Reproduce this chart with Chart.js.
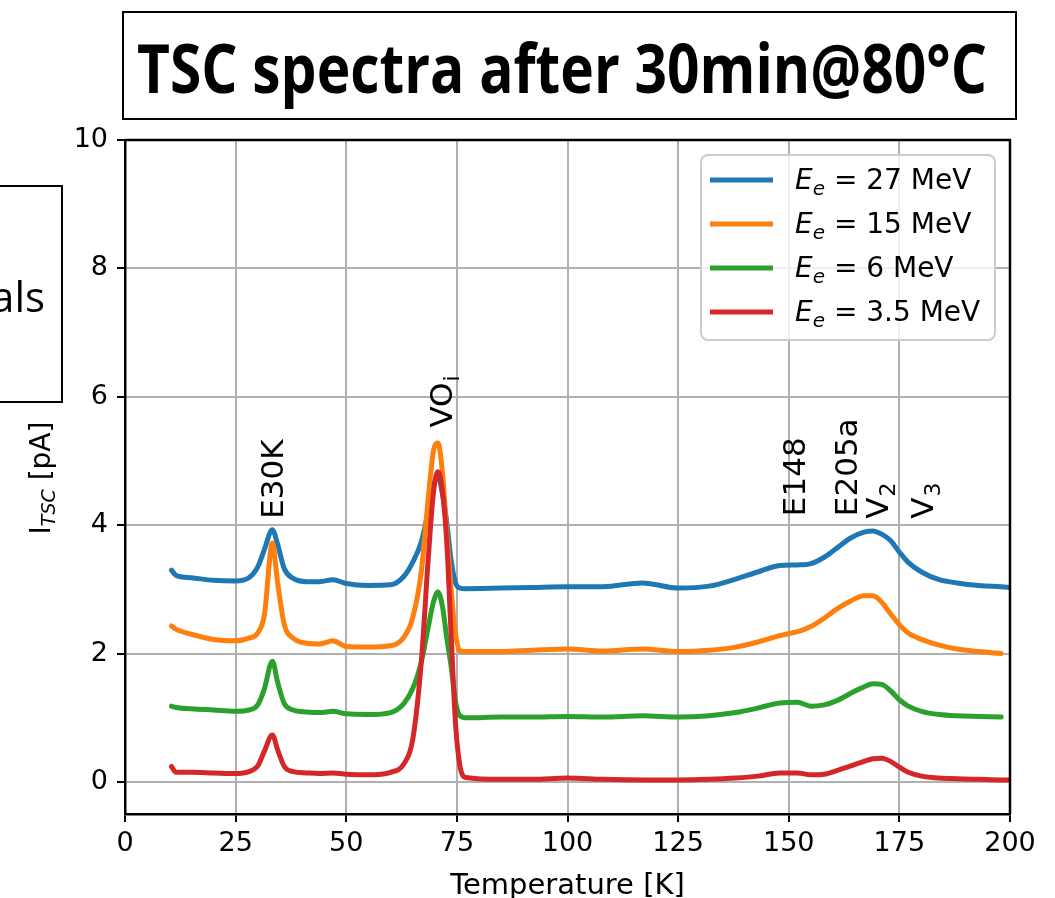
<!DOCTYPE html>
<html>
<head>
<meta charset="utf-8">
<script src="https://cdn.jsdelivr.net/npm/chart.js@4.4.0/dist/chart.umd.min.js"></script>
<style>
  html, body { margin: 0; padding: 0; background: #fff; }
  #wrap { width: 1055px; height: 898px; position: relative; }
</style>
</head>
<body>
<div id="wrap"><canvas id="c" width="1055" height="898"></canvas></div>
<script>
// ---------- data ----------
const temps = [10.5, 11.5, 15, 20, 25, 28, 30, 31.5, 33.3, 34.5, 36, 38, 41, 44, 47, 50, 55, 60, 63, 65, 67, 68.5, 69.7, 70.7, 71.7, 72.7, 73.7, 74.7, 75.7, 77, 85, 92, 100, 108, 117, 125, 132, 138, 143, 148, 152, 155, 158, 161, 164, 167, 169, 171, 173, 175, 177, 180, 184, 188, 193, 198, 200];
const blue27 = [3.30,3.22,3.18,3.14,3.13,3.18,3.35,3.62,3.93,3.70, 3.32,3.17,3.12,3.12,3.15,3.09,3.06,3.07,3.20,3.42, 3.75,4.20,4.60,4.78,4.50,4.05,3.45,3.10,3.02,3.01, 3.02,3.03,3.04,3.04,3.10,3.02,3.05,3.16,3.27,3.37, 3.38,3.40,3.50,3.65,3.80,3.89,3.91,3.86,3.76,3.58, 3.42,3.27,3.15,3.10,3.06,3.04,3.03];
const orange15 = [2.43,2.38,2.30,2.22,2.20,2.24,2.32,2.60,3.72,3.10, 2.45,2.24,2.16,2.15,2.20,2.11,2.10,2.12,2.25,2.55, 3.30,4.40,5.15,5.28,4.85,3.90,3.00,2.30,2.04,2.03, 2.03,2.05,2.07,2.04,2.07,2.03,2.05,2.10,2.18,2.28, 2.34,2.42,2.55,2.70,2.82,2.90,2.90,2.80,2.62,2.45, 2.32,2.22,2.13,2.07,2.03,2.00,null];
const green6 = [1.18,1.16,1.14,1.12,1.10,1.12,1.20,1.45,1.88,1.55, 1.22,1.12,1.09,1.08,1.10,1.06,1.05,1.08,1.22,1.45, 1.88,2.40,2.80,2.96,2.75,2.25,1.80,1.25,1.03,1.00, 1.01,1.01,1.02,1.01,1.03,1.01,1.03,1.08,1.15,1.23, 1.24,1.18,1.20,1.27,1.38,1.48,1.53,1.52,1.42,1.28, 1.18,1.10,1.05,1.03,1.02,1.01,null];
const red35 = [0.24,0.15,0.15,0.14,0.13,0.16,0.25,0.48,0.73,0.50, 0.24,0.16,0.14,0.13,0.14,0.12,0.11,0.15,0.28,0.65, 1.90,3.45,4.50,4.83,4.55,3.75,2.30,0.90,0.25,0.07, 0.04,0.04,0.06,0.04,0.03,0.03,0.04,0.06,0.09,0.14, 0.14,0.11,0.12,0.18,0.25,0.32,0.36,0.37,0.32,0.23, 0.15,0.09,0.06,0.05,0.04,0.03,0.03];

const seriesEnergies = ['27', '15', '6', '3.5'];
const seriesColors = ['#1f77b4', '#ff7f0e', '#2ca02c', '#d62728'];
const xTicks = [0, 25, 50, 75, 100, 125, 150, 175, 200];
const yTicks = [0, 2, 4, 6, 8, 10];

// peak labels: main text, subscript, T (baseline), I (start)
const peakNames = ['E30K', 'VO', 'E148', 'E205a', 'V', 'V'];
const peakSubs  = ['', 'i', '', '', '2', '3'];
const peakT     = [35.7, 73.9, 153.7, 165.4, 172.4, 182.6];
const peakI     = [4.1, 5.52, 4.14, 4.14, 4.1, 4.1];

const titleText = 'TSC spectra after 30min@80°C';

// ---------- chart ----------
const allSeries = [blue27, orange15, green6, red35];
const datasets = allSeries.map((vals, k) => ({
  label: 'E_e = ' + seriesEnergies[k] + ' MeV',
  data: temps.map((t, i) => ({ x: t, y: vals[i] })),
  borderColor: seriesColors[k],
  borderWidth: 5,
  pointRadius: 0,
  fill: false,
  cubicInterpolationMode: 'monotone',
  borderCapStyle: 'round',
  borderJoinStyle: 'round',
  order: 3 - k,
  spanGaps: false
}));

const FONT = "'DejaVu Sans'";

const deco = {
  id: 'deco',
  afterDatasetsDraw(chart) {
    const ctx = chart.ctx;
    const ca = chart.chartArea;
    const xs = chart.scales.x, ys = chart.scales.y;
    ctx.save();
    // top and right spines
    ctx.strokeStyle = '#000';
    ctx.lineWidth = 2.5;
    ctx.beginPath();
    ctx.moveTo(ca.left, ca.top); ctx.lineTo(ca.right, ca.top); ctx.lineTo(ca.right, ca.bottom);
    ctx.stroke();

    // peak annotations (rotated)
    ctx.fillStyle = '#000';
    for (let i = 0; i < peakNames.length; i++) {
      const px = xs.getPixelForValue(peakT[i]);
      const py = ys.getPixelForValue(peakI[i]);
      ctx.save();
      ctx.translate(px, py);
      ctx.rotate(-Math.PI / 2);
      ctx.textAlign = 'left';
      ctx.textBaseline = 'alphabetic';
      ctx.font = '31px ' + FONT;
      ctx.fillText(peakNames[i], 0, 0);
      if (peakSubs[i]) {
        const w = ctx.measureText(peakNames[i]).width;
        ctx.font = '22px ' + FONT;
        ctx.fillText(peakSubs[i], w + 1, 7);
      }
      ctx.restore();
    }

    // legend
    const lx0 = 701, ly0 = 155, lw = 294, lh = 185;
    ctx.beginPath();
    ctx.roundRect(lx0, ly0, lw, lh, 7);
    ctx.fillStyle = 'rgba(255,255,255,0.8)';
    ctx.fill();
    ctx.strokeStyle = '#cccccc';
    ctx.lineWidth = 2;
    ctx.stroke();
    const rowY = [180, 224, 268, 312];
    for (let k = 0; k < 4; k++) {
      const y = rowY[k];
      ctx.strokeStyle = seriesColors[k];
      ctx.lineWidth = 5;
      ctx.beginPath(); ctx.moveTo(710, y); ctx.lineTo(773, y); ctx.stroke();
      ctx.fillStyle = '#000';
      ctx.textAlign = 'left';
      ctx.textBaseline = 'alphabetic';
      let x = 795;
      const base = y + 9;
      ctx.font = 'italic 28px ' + FONT;
      ctx.fillText('E', x, base);
      x += ctx.measureText('E').width;
      ctx.font = 'italic 20px ' + FONT;
      ctx.fillText('e', x, base + 6);
      x += ctx.measureText('e').width;
      ctx.font = '28px ' + FONT;
      ctx.fillText(' = ' + seriesEnergies[k] + ' MeV', x, base);
    }

    // x axis title
    ctx.fillStyle = '#000';
    ctx.font = '29px ' + FONT;
    ctx.textAlign = 'center';
    ctx.textBaseline = 'alphabetic';
    ctx.fillText('Temperature [K]', (ca.left + ca.right) / 2, 894);

    // y title: I_TSC [pA]
    ctx.save();
    ctx.translate(50, 478);
    ctx.rotate(-Math.PI / 2);
    ctx.font = '28px ' + FONT;
    const wI = ctx.measureText('I').width;
    ctx.font = 'italic 19px ' + FONT;
    const wS = ctx.measureText('TSC').width;
    ctx.font = '28px ' + FONT;
    const wR = ctx.measureText(' [pA]').width;
    let sx = -(wI + wS + wR) / 2;
    ctx.textAlign = 'left';
    ctx.fillText('I', sx, 0); sx += wI;
    ctx.font = 'italic 19px ' + FONT;
    ctx.fillText('TSC', sx, 5); sx += wS;
    ctx.font = '28px ' + FONT;
    ctx.fillText(' [pA]', sx, 0);
    ctx.restore();

    // title box
    ctx.strokeStyle = '#000';
    ctx.lineWidth = 2;
    ctx.strokeRect(123, 12, 893, 107);
    ctx.font = "bold 68px 'Open Sans'";
    ctx.textAlign = 'left';
    const tw = ctx.measureText(titleText).width;
    ctx.save();
    ctx.translate(137, 93);
    ctx.scale(850 / tw, 1);
    ctx.fillText(titleText, 0, 0);
    ctx.restore();

    // partial left box
    ctx.strokeRect(-3, 186, 65, 216);
    ctx.font = "42px 'Open Sans'";
    ctx.textAlign = 'right';
    ctx.fillText('als', 45, 312);

    ctx.restore();
  }
};

new Chart(document.getElementById('c'), {
  type: 'line',
  data: { datasets },
  options: {
    responsive: false,
    animation: false,
    devicePixelRatio: 1,
    layout: { padding: { left: 0, right: 45, top: 140, bottom: 0 } },
    plugins: { legend: { display: false }, tooltip: { enabled: false }, title: { display: false } },
    scales: {
      x: {
        type: 'linear',
        min: 0, max: 200,
        afterFit(s) { s.height = 84; },
        afterBuildTicks(s) { s.ticks = xTicks.map(v => ({ value: v })); },
        grid: { color: '#b0b0b0', lineWidth: 2, tickLength: 8, tickColor: '#000', tickWidth: 2 },
        border: { color: '#000', width: 2.5 },
        ticks: { font: { family: 'DejaVu Sans', size: 27 }, color: '#000', padding: 6, maxRotation: 0, autoSkip: false }
      },
      y: {
        type: 'linear',
        min: -0.5, max: 10,
        afterFit(s) { s.width = 125; },
        afterBuildTicks(s) { s.ticks = yTicks.map(v => ({ value: v })); },
        grid: { color: '#b0b0b0', lineWidth: 2, tickLength: 8, tickColor: '#000', tickWidth: 2 },
        border: { color: '#000', width: 2.5 },
        ticks: { font: { family: 'DejaVu Sans', size: 27 }, color: '#000', padding: 9 }
      }
    }
  },
  plugins: [deco]
});
</script>
</body>
</html>
